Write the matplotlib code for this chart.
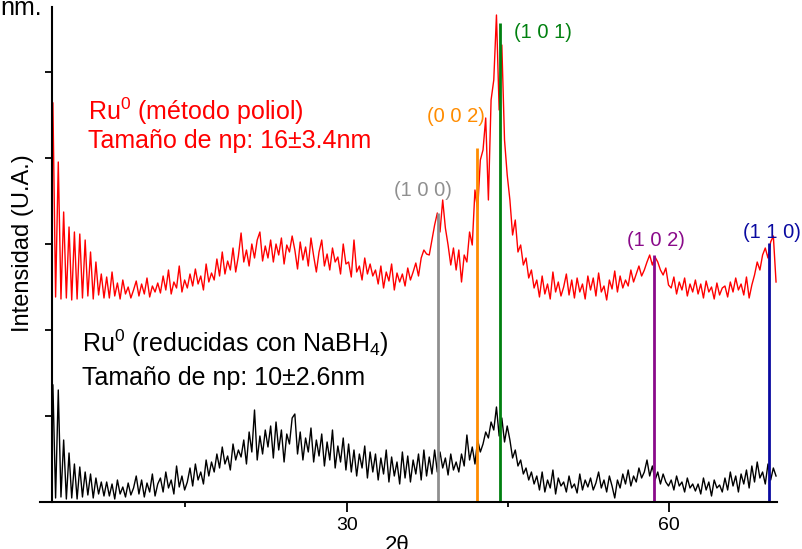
import numpy as np
import matplotlib
matplotlib.use('Agg')
import matplotlib.pyplot as plt
from matplotlib.ticker import MultipleLocator, FixedLocator

plt.rcParams['font.family'] = ['Liberation Sans', 'DejaVu Sans']
plt.rcParams['mathtext.fontset'] = 'custom'
plt.rcParams['mathtext.rm'] = 'Liberation Sans'

# scan start / step (2 theta, degrees)
scan_start = 2.68
scan_step = 0.25

# Ru0 polyol sample (red), arbitrary units
red = [
    399, 205, 340, 203, 290, 204, 275, 202, 270, 203,
    268, 204, 262, 206, 250, 203, 240, 207, 228, 204,
    225, 204, 230, 206, 219, 203, 222, 208, 215, 204,
    212, 221, 206, 218, 208, 224, 205, 216, 210, 219,
    209, 226, 212, 232, 208, 220, 214, 236, 210, 222,
    214, 228, 216, 233, 218, 226, 212, 238, 220, 229,
    222, 243, 226, 250, 228, 241, 232, 254, 230, 246,
    269, 240, 252, 236, 258, 244, 262, 270, 241, 256,
    244, 262, 240, 258, 247, 264, 238, 257, 250, 266,
    252, 233, 260, 242, 255, 236, 264, 246, 230, 250,
    262, 236, 248, 232, 254, 240, 245, 228, 258, 238,
    240, 225, 262, 230, 236, 222, 244, 228, 238, 226,
    232, 218, 236, 214, 230, 221, 238, 212, 229, 220,
    228, 216, 234, 222, 230, 239, 226, 244, 252, 248,
    247, 262, 277, 289, 270, 302, 274, 257, 237, 254,
    232, 252, 220, 247, 240, 270, 257, 312, 292, 342,
    352, 384, 302, 402, 422, 487, 392, 457, 362, 327,
    302, 267, 282, 250, 257, 237, 244, 224, 232, 214,
    222, 205, 226, 208, 218, 203, 230, 210, 220, 206,
    215, 228, 207, 222, 204, 224, 210, 218, 203, 226,
    212, 224, 206, 229, 210, 216, 202, 222, 213, 231,
    210, 226, 214, 222, 216, 232, 220, 228, 236, 226,
    232, 240, 247, 237, 245, 240, 232, 227, 234, 217,
    214, 225, 208, 220, 212, 224, 206, 218, 210, 222,
    208, 218, 204, 221, 210, 215, 203, 219, 207, 214,
    216, 205, 220, 210, 224, 212, 218, 207, 225, 204,
    217, 227, 240, 232, 247, 254, 244, 260, 266, 220,
]

# Ru0 NaBH4 sample (black)
black = [
    117, 4, 112, 5, 62, 3, 49, 4, 38, 3,
    35, 5, 30, 7, 28, 4, 24, 8, 20, 6,
    20, 6, 18, 3, 22, 8, 15, 5, 19, 7,
    14, 26, 8, 22, 5, 19, 10, 28, 6, 18,
    24, 10, 30, 14, 22, 8, 36, 15, 26, 12,
    20, 34, 16, 38, 22, 30, 18, 42, 26, 40,
    30, 48, 34, 55, 38, 46, 32, 58, 42, 52,
    45, 62, 38, 70, 50, 92, 42, 66, 48, 72,
    55, 76, 44, 80, 52, 72, 40, 68, 58, 84,
    88, 48, 70, 42, 64, 50, 74, 40, 62, 46,
    68, 36, 60, 42, 72, 34, 56, 40, 64, 32,
    58, 30, 52, 26, 48, 34, 56, 24, 50, 30,
    48, 22, 44, 28, 52, 20, 45, 26, 40, 18,
    50, 24, 46, 20, 42, 28, 48, 22, 52, 26,
    45, 28, 52, 30, 50, 34, 44, 27, 48, 32,
    40, 30, 48, 36, 67, 42, 55, 38, 62, 50,
    58, 70, 64, 80, 72, 95, 66, 84, 60, 76,
    62, 44, 52, 36, 42, 28, 34, 22, 30, 18,
    26, 12, 30, 10, 22, 14, 32, 8, 24, 16,
    20, 10, 26, 14, 18, 9, 28, 12, 22, 15,
    24, 12, 19, 30, 14, 22, 10, 26, 16, 4,
    22, 14, 28, 18, 32, 16, 26, 20, 34, 24,
    30, 42, 26, 36, 22, 30, 18, 28, 20, 16,
    22, 12, 26, 16, 20, 10, 24, 14, 18, 11,
    18, 8, 24, 12, 20, 6, 22, 14, 17, 10,
    24, 12, 30, 16, 26, 10, 28, 18, 32, 14,
    36, 20, 40, 24, 30, 18, 38, 22, 34, 26,
]

# reference reflections of hcp Ru
hkl_labels = ['(1 0 0)', '(0 0 2)', '(1 0 1)', '(1 0 2)', '(1 1 0)']
hkl_pos = [38.45, 42.1, 44.25, 58.55, 69.3]
hkl_height = [289, 354, 479, 247, 259]
hkl_colors = ['#8f8f8f', '#ff8c00', '#00800f', '#8a0a8a', '#0a0aa0']
# label anchor (2theta, intensity)
label_x = [37.07, 40.17, 48.26, 58.76, 69.52]
label_y = [312, 386, 470, 261, 270]

two_theta = scan_start + scan_step * np.arange(len(red))

fig = plt.figure(figsize=(8.02, 5.49), dpi=100)
ax = fig.add_axes([40 / 802, 47 / 549, 737 / 802, 495 / 549])

ax.plot(two_theta, red, color='#ff0000', lw=1.0)
ax.plot(two_theta, black, color='black', lw=1.0)
ax.vlines(hkl_pos, 0, hkl_height, colors=hkl_colors, lw=2.0)

for lab, x, y, c in zip(hkl_labels, label_x, label_y, hkl_colors):
    ax.text(x, y, lab, color=c, fontsize=14.5, ha='center', va='center')

ax.set_xlim(1.48, 70.02)
ax.set_ylim(0, 495)

for s in ['top', 'right']:
    ax.spines[s].set_visible(False)
ax.spines['left'].set_position(('data', 2.55))
ax.spines['left'].set_linewidth(1.5)
ax.spines['bottom'].set_linewidth(1.5)

ax.xaxis.set_major_locator(FixedLocator([30, 60]))
ax.xaxis.set_minor_locator(FixedLocator([15, 45]))
ax.yaxis.set_major_locator(MultipleLocator(86))
ax.tick_params(axis='x', which='major', direction='out', length=7, width=1.3, labelsize=14, pad=4)
ax.tick_params(axis='x', which='minor', direction='out', length=3.5, width=1.3)
ax.tick_params(axis='y', direction='out', length=5, width=1.3, labelleft=False)

# annotations
fig.text(88 / 802, 1 - 120 / 549, r'Ru$^{\mathrm{0}}$ (método poliol)', color='#ff0000', fontsize=18, va='baseline')
fig.text(88 / 802, 1 - 148 / 549, 'Tamaño de np: 16±3.4nm', color='#ff0000', fontsize=18, va='baseline')
fig.text(82 / 802, 1 - 352 / 549, r'Ru$^{\mathrm{0}}$ (reducidas con NaBH$_{\mathrm{4}}$)', color='black', fontsize=18, va='baseline')
fig.text(82 / 802, 1 - 385 / 549, 'Tamaño de np: 10±2.6nm', color='black', fontsize=18, va='baseline')
fig.text(42 / 802, 1 - 15 / 549, 'nm.', fontsize=18, ha='right', va='baseline')

fig.text(23 / 802, 1 - 243 / 549, 'Intensidad (U.A.)', fontsize=17, rotation=90, ha='center', va='center')
fig.text(397 / 802, 1 - 535 / 549, '2θ', fontsize=16, ha='center', va='top')

fig.savefig('out.png', dpi=100)
